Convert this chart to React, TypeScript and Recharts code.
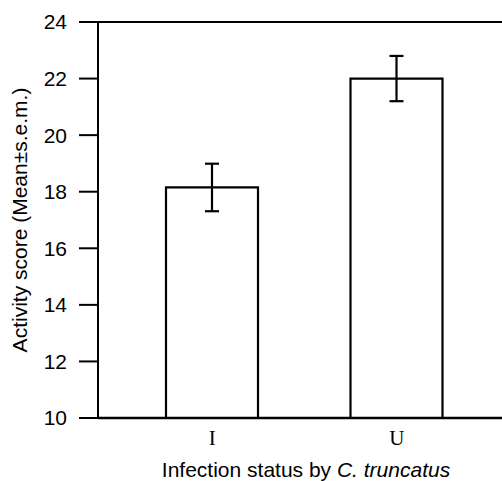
import { Bar, BarChart, ErrorBar, ReferenceLine, XAxis, YAxis } from "recharts"

const categories = ["I", "U"]
const means = [18.15, 22.0]
const sems = [0.84, 0.8]
const yTicks = [10, 12, 14, 16, 18, 20, 22, 24]

const data = categories.map((status, i) => ({ status, mean: means[i], sem: sems[i] }))

const SANS = "'Liberation Sans', Arial, Helvetica, sans-serif"
const SERIF = "'Liberation Serif', 'Times New Roman', serif"

function YLabel({ viewBox }: any) {
  const x = viewBox.x + 27
  const y = viewBox.y + viewBox.height / 2
  return (
    <text x={x} y={y} transform={`rotate(-90 ${x} ${y})`} textAnchor="middle" fontFamily={SANS} fontSize={21} fill="#000">
      Activity score (Mean±s.e.m.)
    </text>
  )
}

function XLabel({ viewBox }: any) {
  const x = viewBox.x + viewBox.width / 2 + 6
  const y = viewBox.y + 59
  return (
    <text x={x} y={y} textAnchor="middle" fontFamily={SANS} fontSize={21} fill="#000">
      Infection status by <tspan fontStyle="italic">C. truncatus</tspan>
    </text>
  )
}

export default function App() {
  return (
    <div style={{ position: "absolute", left: 0, top: 0 }}>
      <BarChart width={502} height={481} data={data} margin={{ top: 22, right: 0, bottom: 0, left: 0 }}>
        <XAxis
          dataKey="status"
          height={63}
          padding={{ left: 22, right: 13 }}
          tickLine={false}
          tickSize={0}
          tickMargin={12}
          axisLine={{ stroke: "#000", strokeWidth: 2.4 }}
          tick={{ fill: "#000", fontSize: 21, fontFamily: SERIF }}
          label={<XLabel />}
        />
        <YAxis
          type="number"
          domain={[10, 24]}
          ticks={yTicks}
          width={98}
          tickSize={19}
          tickMargin={12}
          axisLine={{ stroke: "#000", strokeWidth: 2 }}
          tickLine={{ stroke: "#000", strokeWidth: 2 }}
          tick={{ fill: "#000", fontSize: 21, fontFamily: SANS }}
          label={<YLabel />}
        />
        <ReferenceLine y={24} stroke="#000" strokeWidth={2} ifOverflow="visible" />
        <Bar dataKey="mean" fill="#fff" stroke="#000" strokeWidth={2.2} barSize={92} isAnimationActive={false}>
          <ErrorBar dataKey="sem" width={7} stroke="#000" strokeWidth={2.2} isAnimationActive={false} />
        </Bar>
      </BarChart>
    </div>
  )
}
